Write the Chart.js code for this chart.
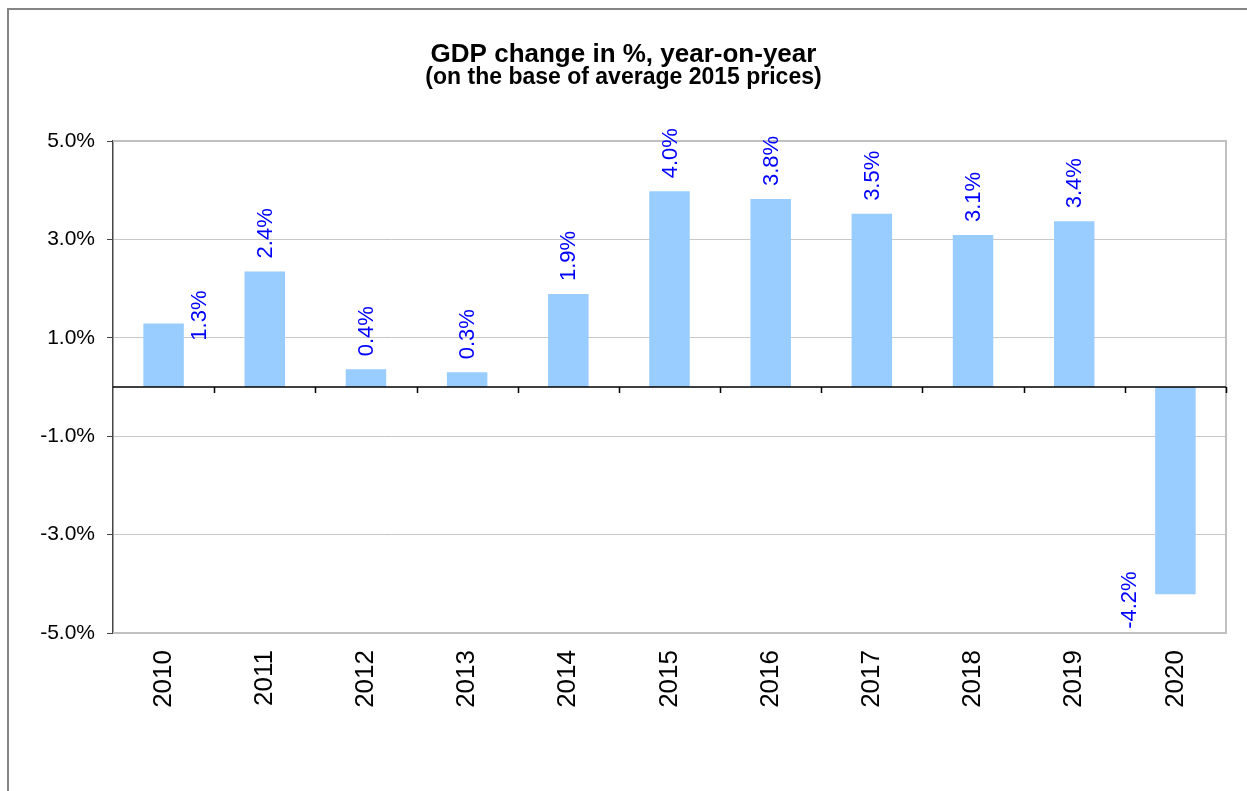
<!DOCTYPE html>
<html>
<head>
<meta charset="utf-8">
<script src="https://cdn.jsdelivr.net/npm/chart.js@4.4.1/dist/chart.umd.min.js"></script>
<style>
  html, body { margin: 0; padding: 0; background: #fff; overflow: hidden; }
  #wrap { position: absolute; left: 0; top: 0; width: 1247px; height: 791px; }
  #frame { position: absolute; left: 7px; top: 8px; width: 1260px; height: 800px;
           border: 2px solid #858585; box-sizing: border-box; pointer-events: none; }
</style>
</head>
<body>
<div id="wrap"><canvas id="gdpChart"></canvas></div>
<div id="frame"></div>
<script>
var years = ['2010','2011','2012','2013','2014','2015','2016','2017','2018','2019','2020'];
var gdpChange = [1.29, 2.35, 0.36, 0.30, 1.89, 3.98, 3.82, 3.52, 3.09, 3.37, -4.21];
var yMin = -5;
var yMax = 5;
var yStep = 2;

var FONT = '"Liberation Sans", Arial, sans-serif';

// zero line with small ticks between categories, plot frame, and value labels
var extras = {
    id: 'extras',
    beforeDatasetsDraw: function(chart) {
        var ctx = chart.ctx;
        var a = chart.chartArea;
        ctx.save();
        ctx.strokeStyle = '#c0c0c0';
        ctx.lineWidth = 2;
        ctx.beginPath();
        ctx.moveTo(a.left, a.top);
        ctx.lineTo(a.right, a.top);
        ctx.lineTo(a.right, a.bottom);
        ctx.lineTo(a.left, a.bottom);
        ctx.stroke();
        ctx.restore();
    },
    afterDatasetsDraw: function(chart) {
        var ctx = chart.ctx;
        var a = chart.chartArea;
        var ys = chart.scales.y;
        var zero = ys.getPixelForValue(0);
        var step = (a.right - a.left) / years.length;

        ctx.save();
        ctx.strokeStyle = '#000';
        ctx.lineWidth = 1.5;
        ctx.beginPath();
        ctx.moveTo(a.left, zero);
        ctx.lineTo(a.right, zero);
        for (var k = 1; k <= years.length; k++) {
            var tx = Math.round(a.left + k * step) + 0.5;
            ctx.moveTo(tx, zero);
            ctx.lineTo(tx, zero + 6);
        }
        ctx.stroke();

        // data labels, rotated
        var meta = chart.getDatasetMeta(0);
        ctx.fillStyle = '#0000ff';
        ctx.font = '22px ' + FONT;
        ctx.textBaseline = 'middle';
        meta.data.forEach(function(bar, i) {
            var v = gdpChange[i];
            var txt = v.toFixed(1) + '%';
            ctx.save();
            if (i === 0) {
                ctx.translate(bar.x + bar.width / 2 + 15, bar.y - 8);
                ctx.textAlign = 'center';
            } else if (v < 0) {
                ctx.translate(bar.x - bar.width / 2 - 26, bar.y + 6);
                ctx.textAlign = 'center';
            } else {
                ctx.translate(bar.x, bar.y - 13);
                ctx.textAlign = 'left';
            }
            ctx.rotate(-Math.PI / 2);
            ctx.fillText(txt, 0, 1);
            ctx.restore();
        });
        ctx.restore();
    }
};

var ctx = document.getElementById('gdpChart').getContext('2d');

var gdpChart = new Chart(ctx, {
    type: 'bar',
    data: {
        labels: years,
        datasets: [{
            label: 'GDP change',
            data: gdpChange,
            backgroundColor: '#99ccff',
            borderWidth: 0,
            barPercentage: 0.4,
            categoryPercentage: 1.0
        }]
    },
    options: {
        responsive: true,
        maintainAspectRatio: false,
        animation: false,
        layout: {
            padding: { left: 0, right: 0, top: 0, bottom: 0 }
        },
        plugins: {
            legend: { display: false },
            tooltip: { enabled: false },
            title: {
                display: true,
                text: 'GDP change in %, year-on-year',
                color: '#000',
                font: { family: FONT, size: 26, weight: 'bold', lineHeight: 0.81 },
                padding: { top: 44, bottom: 0 }
            },
            subtitle: {
                display: true,
                text: '(on the base of average 2015 prices)',
                color: '#000',
                font: { family: FONT, size: 23, weight: 'bold', lineHeight: 0.826 },
                padding: { top: 3, bottom: 54 }
            }
        },
        scales: {
            x: {
                grid: { display: false, drawTicks: false },
                border: { display: false },
                ticks: {
                    color: '#000',
                    font: { family: FONT, size: 26 },
                    minRotation: 90,
                    maxRotation: 90,
                    padding: 17
                },
                afterFit: function(scale) { scale.height = 158; }
            },
            y: {
                min: yMin,
                max: yMax,
                ticks: {
                    stepSize: yStep,
                    color: '#000',
                    font: { family: FONT, size: 21 },
                    padding: 12,
                    callback: function(v) { return v.toFixed(1) + '%'; }
                },
                grid: {
                    color: function(c) {
                        return (c.tick && (c.tick.value === yMax || c.tick.value === yMin)) ? 'rgba(0,0,0,0)' : '#c8c8c8';
                    },
                    tickColor: '#444',
                    tickLength: 6,
                    lineWidth: 1
                },
                border: { color: '#444', width: 1.5 },
                afterFit: function(scale) { scale.width = 113; }
            },
            // empty right axis, only reserves the margin right of the plot
            yRight: {
                position: 'right',
                min: yMin,
                max: yMax,
                grid: { display: false, drawTicks: false },
                border: { display: false },
                ticks: { display: false },
                afterFit: function(scale) { scale.width = 21; }
            }
        }
    },
    plugins: [extras]
});
</script>
</body>
</html>
